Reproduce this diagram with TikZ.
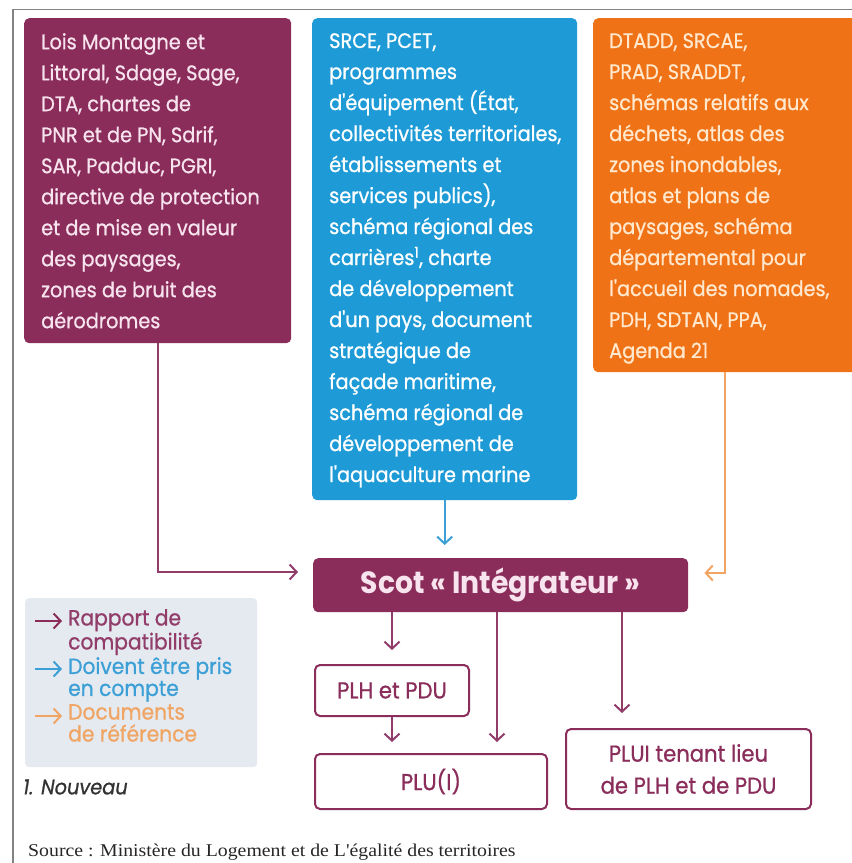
\documentclass[tikz,border=0pt]{standalone}
\usepackage{fontspec}
\usetikzlibrary{arrows.meta,calc}
\newfontfamily\boxfont[FakeStretch=0.92,FakeBold=0.8]{Poppins}
\newfontfamily\scotfont[FakeStretch=0.92]{Poppins}
\newfontfamily\srcfont[FakeStretch=1.1]{Liberation Serif}
\definecolor{cpurple}{RGB}{138,45,90}
\definecolor{cblue}{RGB}{30,155,214}
\definecolor{corange}{RGB}{240,114,22}
\definecolor{lpurple}{RGB}{145,60,105}
\definecolor{lblue}{RGB}{60,160,215}
\definecolor{lorange}{RGB}{240,165,100}
\definecolor{ctxtp}{RGB}{248,228,238}
\definecolor{ctxto}{RGB}{255,232,205}
\definecolor{clegend}{RGB}{229,234,240}
\definecolor{cframe}{RGB}{130,130,130}
\tikzset{
  colbox/.style={rounded corners=5pt, minimum width=#1, anchor=north west, inner sep=0pt},
  boxtxt/.style={font=\boxfont\fontsize{21}{31}\selectfont, align=left, inner sep=0pt, anchor=north west},
  smallbox/.style={draw=cpurple, line width=2pt, fill=white, rounded corners=5pt, anchor=north west, inner sep=0pt, text=cpurple, font=\boxfont\fontsize{23}{32}\selectfont, align=center},
  legtxt/.style={font=\boxfont\fontsize{22}{22}\selectfont, align=left, inner sep=0pt, anchor=north west},
  conn/.style={line width=2pt, -{Straight Barb[length=7pt,width=15pt,line width=2pt]}},
}
\begin{document}
\begin{tikzpicture}[x=1pt,y=-1pt]
\useasboundingbox (0,0) rectangle (852,863);
\clip (0,0) rectangle (852,863);
% frame
\draw[cframe, line width=1.5pt] (13,863) -- (13,9.5) -- (852,9.5);
% top boxes
\node[colbox=267pt, fill=cpurple, minimum height=325pt] (b1) at (24,18) {};
\node[colbox=265pt, fill=cblue, minimum height=482pt] (b2) at (312,18) {};
\node[colbox=264pt, fill=corange, minimum height=354pt] (b3) at (593,18) {};
\node[boxtxt, text=ctxtp] (t1) at (41,33) {Lois Montagne et\\Littoral, Sdage, Sage,\\DTA, chartes de\\PNR et de PN, Sdrif,\\SAR, Padduc, PGRI,\\directive de protection\\et de mise en valeur\\des paysages,\\zones de bruit des\\aérodromes};
\node[boxtxt, text=white] (t2) at (329,33) {SRCE, PCET,\\programmes\\d'équipement (État,\\collectivités territoriales,\\établissements et\\services publics),\\schéma régional des\\carrières\textsuperscript{1}, charte\\de développement\\d'un pays, document\\stratégique de\\façade maritime,\\schéma régional de\\développement de\\l'aquaculture marine};
\node[boxtxt, text=ctxto] (t3) at (609,33) {DTADD, SRCAE,\\PRAD, SRADDT,\\schémas relatifs aux\\déchets, atlas des\\zones inondables,\\atlas et plans de\\paysages, schéma\\départemental pour\\l'accueil des nomades,\\PDH, SDTAN, PPA,\\Agenda 21};
% Scot
\node[colbox=375pt, fill=cpurple, minimum height=54pt, text=ctxtp, font=\scotfont\bfseries\fontsize{30.7}{36}\selectfont] (scot) at (313,558) {Scot « Intégrateur »};
% small boxes
\node[smallbox, minimum width=154pt, minimum height=51pt] (plh) at (314,664) {PLH et PDU};
\node[smallbox, minimum width=232pt, minimum height=55pt] (plu) at (314,753) {PLU(I)};
\node[smallbox, minimum width=245pt, minimum height=80pt] (plui) at (565,728) {PLUI tenant lieu\\de PLH et de PDU};
% legend
\node[colbox=232pt, fill=clegend, rounded corners=4pt, minimum height=169pt] (leg) at (25,598) {};
\node[legtxt, text=lpurple] (l1) at (68,609) {Rapport de\\compatibilité};
\node[legtxt, text=lblue] (l2) at (68,657) {Doivent être pris\\en compte};
\node[legtxt, text=lorange] (l3) at (68,704) {Documents\\de référence};
\draw[conn, cpurple] ($(l1.north west)+(-33,12)$) -- ++(27,0);
\draw[conn, lblue] ($(l2.north west)+(-33,12)$) -- ++(27,0);
\draw[conn, lorange] ($(l3.north west)+(-33,12)$) -- ++(27,0);
\node[anchor=west, inner sep=0pt, text=black!80, font=\boxfont\itshape\fontsize{21}{24}\selectfont] (nouveau) at (23,787) {1. Nouveau};
\node[anchor=west, inner sep=0pt, text=black!85, font=\srcfont\fontsize{18}{20}\selectfont] (src) at (28,852) {Source : Ministère du Logement et de L'égalité des territoires};
% connectors
\coordinate (s2) at ($(scot.south west)+(184,0)$);
\coordinate (s3) at ($(scot.south west)+(309,0)$);
\draw[conn, lpurple, shorten >=15pt] (b1.south) |- ($(scot.north west)+(0,14)$);
\draw[conn, lblue, shorten >=13pt] (b2.south) -- (b2.south |- scot.north);
\draw[conn, lorange, shorten >=16pt] (b3.south) |- ($(scot.north east)+(0,15)$);
\draw[conn, lpurple, shorten >=14pt] (plh.north |- scot.south) -- (plh.north);
\draw[conn, lpurple, shorten >=11pt] (plh.south) -- (plh.south |- plu.north);
\draw[conn, lpurple, shorten >=11pt] (s2) -- (s2 |- plu.north);
\draw[conn, lpurple, shorten >=15pt] (s3) -- (s3 |- plui.north);
\end{tikzpicture}
\end{document}
